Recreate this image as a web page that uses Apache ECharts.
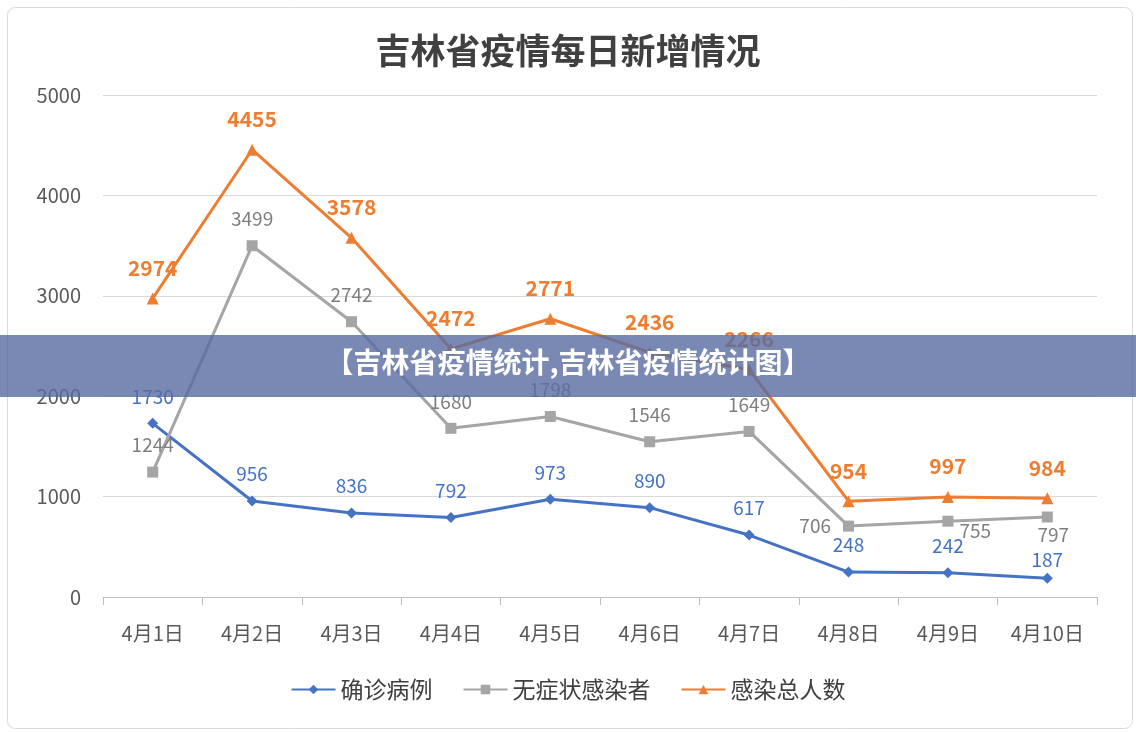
<!DOCTYPE html>
<html><head><meta charset="utf-8">
<script src="https://cdn.jsdelivr.net/npm/echarts@6/dist/echarts.min.js"></script>
<style>html,body{margin:0;padding:0;background:#fff}#c{width:1136px;height:732px}</style>
</head><body><div id="c"></div>
<script>
const categories = ['4月1日','4月2日','4月3日','4月4日','4月5日','4月6日','4月7日','4月8日','4月9日','4月10日'];
const confirmed = [1730,956,836,792,973,890,617,248,242,187];
const asymptomatic = [1244,3499,2742,1680,1798,1546,1649,706,755,797];
const total = [2974,4455,3578,2472,2771,2436,2266,954,997,984];
const seriesNames = ['确诊病例','无症状感染者','感染总人数'];
const asymPos = ['top','top','top','top','top','top','top','left','right','bottom'];
const asymOff = [[0,0],[0,0],[0,0],[0,0],[0,0],[0,0],[0,0],[0,0],[-6,10],[6,-9]];
const confOff = [[0,0],[0,0],[0,0],[0,0],[0,0],[0,0],[0,0],[0,0],[0,0],[0,9]];
const font = '"Noto Sans CJK SC","Noto Sans",sans-serif';
const chart = echarts.init(document.getElementById('c'));
chart.setOption({
  backgroundColor:'#fff',
  textStyle:{fontFamily:font},
  title:{text:'吉林省疫情每日新增情况',left:'center',top:28,textStyle:{fontSize:35,fontWeight:'bold',color:'#404040',fontFamily:font}},
  grid:{left:103,right:39,top:95,bottom:135},
  legend:{bottom:26,itemWidth:44,itemHeight:12,itemGap:30,textStyle:{fontSize:23,color:'#404040'},data:seriesNames},
  xAxis:{type:'category',data:categories,boundaryGap:true,
    axisLine:{lineStyle:{color:'#bfbfbf'}},axisTick:{show:true,length:8,lineStyle:{color:'#bfbfbf'}},
    axisLabel:{fontSize:20,color:'#595959',margin:26}},
  yAxis:{type:'value',min:0,max:5000,interval:1000,axisLine:{show:false},axisTick:{show:false},
    splitLine:{lineStyle:{color:'#d9d9d9'}},axisLabel:{fontSize:20,color:'#595959',margin:22,formatter:v=>String(v)}},
  series:[
    {name:seriesNames[0],type:'line',data:confirmed.map((v,i)=>({value:v,label:{offset:confOff[i]}})),color:'#4472c4',symbol:'diamond',symbolSize:11,lineStyle:{width:3},
      label:{show:true,position:'top',distance:12,fontSize:19,color:'#4472c4'}},
    {name:seriesNames[1],type:'line',data:asymptomatic.map((v,i)=>({value:v,label:{position:asymPos[i],offset:asymOff[i]}})),color:'#a5a5a5',symbol:'rect',symbolSize:11,lineStyle:{width:3},
      label:{show:true,distance:12,fontSize:19,color:'#7f7f7f'}},
    {name:seriesNames[2],type:'line',data:total,color:'#ed7d31',symbol:'triangle',symbolSize:12,lineStyle:{width:3},
      label:{show:true,position:'top',distance:14,fontSize:21,fontWeight:'bold',color:'#ed7d31'}}
  ],
  graphic:[
    {type:'rect',left:5,top:5,shape:{width:1125,height:721,r:8},style:{fill:'none',stroke:'#d9d9d9',lineWidth:1},z:-1},
    {type:'rect',left:0,top:335,shape:{width:1136,height:62},style:{fill:'rgba(88,108,160,0.8)'},z:100},
    {type:'text',left:'center',top:348,style:{text:'【吉林省疫情统计,吉林省疫情统计图】',fill:'#fff',fontSize:28,fontWeight:'bold',fontFamily:font},z:101}
  ]
});
</script></body></html>
